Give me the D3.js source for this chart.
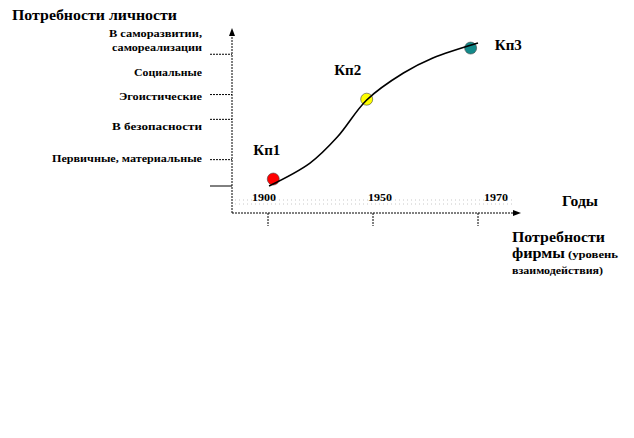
<!DOCTYPE html>
<html>
<head>
<meta charset="utf-8">
<script src="https://cdn.jsdelivr.net/npm/d3@7"></script>
<style>
  body { margin: 0; background: #fff; }
</style>
</head>
<body>
<div id="chart"></div>
<script>
// need levels (y axis), in "need score" units 0..100
const levelNames = [["Первичные, материальные"], ["В безопасности"], ["Эгоистические"], ["Социальные"], ["В саморазвитии,", "самореализации"]];
const levelLabelWidths = [[150], [90], [83], [68], [93, 90]];
const levelLabelValues = [18, 38.5, 58, 73.5, 94];
const levelTickValues = [0, 17, 43, 59, 85];

// years (x axis) - evenly spaced categories
const years = ["1900", "1950", "1970"];

// the S-curve, t = position along the year axis (0..2), v = need score
const curveT = [0.01, 0.4, 0.66, 0.94, 1.29, 1.57, 2.0];
const curveV = [0, 14.8, 31.6, 55.5, 72.9, 82.6, 92.3];

// stages
const stageNames = ["Кп1", "Кп2", "Кп3"];
const stageT = [0.05, 0.94, 1.93];
const stageV = [4.5, 56, 89];
const stageLabelT = [-0.14, 0.63, 2.16];
const stageLabelV = [20, 71.6, 87.7];
const stageColors = ["#ff0000", "#ffff00", "#138a8a"];

const W = 634, H = 438;
const svg = d3.select("#chart").append("svg").attr("width", W).attr("height", H)
  .attr("font-family", "'Liberation Serif', 'DejaVu Serif', 'Times New Roman', serif")
  .attr("font-weight", "bold");

const x = d3.scaleLinear().domain([0, 2]).range([268, 478]);
const xLab = d3.scaleLinear().domain([0, 2]).range([264, 496]);
const y = d3.scaleLinear().domain([0, 100]).range([186, 31]);

const axisX = 232, axisY = 213;

// faint dotted guides behind the year labels
[200, 204].forEach(gy => {
  svg.append("line").attr("x1", axisX + 3).attr("x2", 512).attr("y1", gy).attr("y2", gy)
    .attr("stroke", "#c8c8c8").attr("stroke-dasharray", "1,3");
});

// axes
svg.append("line").attr("x1", axisX).attr("x2", axisX).attr("y1", axisY).attr("y2", 34)
  .attr("stroke", "#000").attr("stroke-dasharray", "2,1");
svg.append("path").attr("d", `M${axisX - 3},${36} L${axisX},${28} L${axisX + 3},${36} Z`).attr("fill", "#000");
svg.append("line").attr("x1", axisX).attr("x2", 515).attr("y1", axisY).attr("y2", axisY)
  .attr("stroke", "#000").attr("stroke-dasharray", "2,1");
svg.append("path").attr("d", `M${513},${axisY - 3} L${521},${axisY} L${513},${axisY + 3} Z`).attr("fill", "#000");

// y ticks
svg.selectAll(".ytick").data(levelTickValues).enter().append("line")
  .attr("x1", 210).attr("x2", axisX)
  .attr("y1", d => y(d)).attr("y2", d => y(d))
  .attr("stroke", "#000")
  .attr("stroke-dasharray", (d, i) => i === 0 ? null : "2,1");

// y labels
const yl = svg.selectAll(".ylab").data(levelNames).enter().append("text")
  .attr("text-anchor", "end").attr("font-size", 11)
  .attr("transform", (d, i) => `translate(202,${y(levelLabelValues[i])})`);
yl.each(function (lines, i) {
  const t = d3.select(this);
  const off = lines.length === 1 ? 4 : -3;
  lines.forEach((ln, k) => {
    t.append("tspan").attr("x", 0).attr("y", off + k * 14)
      .attr("textLength", levelLabelWidths[i][k]).attr("lengthAdjust", "spacingAndGlyphs")
      .text(ln);
  });
});

// x ticks below the axis
svg.selectAll(".xtick").data(years).enter().append("line")
  .attr("x1", (d, i) => x(i)).attr("x2", (d, i) => x(i))
  .attr("y1", axisY).attr("y2", axisY + 13)
  .attr("stroke", "#000").attr("stroke-dasharray", "2,1");

// year labels
svg.selectAll(".xlab").data(years).enter().append("text")
  .attr("x", (d, i) => xLab(i)).attr("y", 201)
  .attr("text-anchor", "middle").attr("font-size", 11)
  .attr("textLength", 24).attr("lengthAdjust", "spacingAndGlyphs")
  .text(d => d);

// curve
const pts = curveT.map((t, i) => [x(t), y(curveV[i])]);
const curve = d3.line().curve(d3.curveCatmullRom.alpha(0.5));

// stage markers
svg.selectAll(".stage").data(stageNames).enter().append("circle")
  .attr("cx", (d, i) => x(stageT[i])).attr("cy", (d, i) => y(stageV[i]))
  .attr("r", 6).attr("fill", (d, i) => stageColors[i])
  .attr("stroke", "#444").attr("stroke-width", 0.6);

svg.append("path").datum(pts)
  .attr("d", curve)
  .attr("fill", "none").attr("stroke", "#000").attr("stroke-width", 1.6);

svg.selectAll(".stlab").data(stageNames).enter().append("text")
  .attr("x", (d, i) => x(stageLabelT[i])).attr("y", (d, i) => y(stageLabelV[i]))
  .attr("font-size", 15)
  .attr("textLength", 27).attr("lengthAdjust", "spacingAndGlyphs")
  .text(d => d);

// titles
svg.append("text").attr("x", 12).attr("y", 20).attr("font-size", 14)
  .attr("textLength", 165).attr("lengthAdjust", "spacingAndGlyphs")
  .text("Потребности личности");
svg.append("text").attr("x", 562).attr("y", 206).attr("font-size", 14)
  .attr("textLength", 36).attr("lengthAdjust", "spacingAndGlyphs")
  .text("Годы");

const ft = svg.append("text").attr("x", 512).attr("y", 242).attr("font-size", 14);
ft.append("tspan").attr("x", 512)
  .attr("textLength", 93).attr("lengthAdjust", "spacingAndGlyphs").text("Потребности");
ft.append("tspan").attr("x", 512).attr("dy", 16)
  .attr("textLength", 53).attr("lengthAdjust", "spacingAndGlyphs").text("фирмы");
ft.append("tspan").attr("font-size", 10).attr("dx", 3)
  .attr("textLength", 50).attr("lengthAdjust", "spacingAndGlyphs").text("(уровень");
ft.append("tspan").attr("x", 512).attr("dy", 16).attr("font-size", 10)
  .attr("textLength", 91).attr("lengthAdjust", "spacingAndGlyphs").text("взаимодействия)");
</script>
</body>
</html>
